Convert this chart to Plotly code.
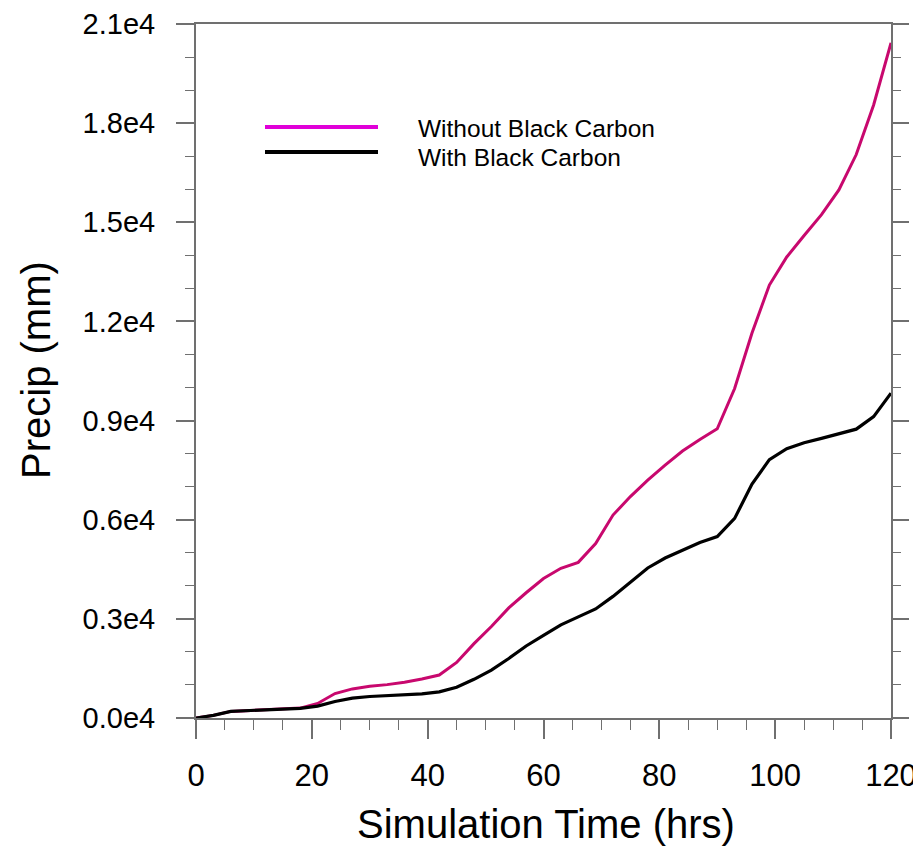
import plotly.graph_objects as go

hours = list(range(0, 121, 3))
without_bc = [0, 80, 200, 230, 250, 270, 300, 440, 740, 880, 960, 1010, 1080, 1180,
              1300, 1680, 2250, 2770, 3330, 3790, 4220, 4530, 4710, 5280, 6140, 6700,
              7200, 7650, 8080, 8430, 8750, 9970, 11650, 13100, 13950, 14600, 15230,
              15980, 17050, 18550, 20430]
with_bc = [0, 80, 200, 230, 250, 270, 290, 360, 500, 600, 650, 680, 700, 730, 790,
           930, 1170, 1450, 1800, 2180, 2500, 2820, 3060, 3300, 3680, 4120, 4540, 4840,
           5070, 5310, 5490, 6040, 7080, 7820, 8150, 8330, 8460, 8610, 8740, 9120, 9830]

y_tickvals = [0, 3000, 6000, 9000, 12000, 15000, 18000, 21000]
y_ticktext = ["0.0e4", "0.3e4", "0.6e4", "0.9e4", "1.2e4", "1.5e4", "1.8e4", "2.1e4"]
x_tickvals = [0, 20, 40, 60, 80, 100, 120]
legend_names = ["Without Black Carbon", "With Black Carbon"]
x_title = "Simulation Time (hrs)"
y_title = "Precip (mm)"

FONT = "Liberation Sans, Arial, Helvetica, sans-serif"
AX = "#707070"
OFF = 8  # default page body margin
W, H = 921 - OFF, 846 - OFF
# desired plot area in window pixels: x 196..891, y 24..718
PX0, PX1, PY0, PY1 = 196, 891, 24, 718
L, T = PX0 - OFF, PY0 - OFF
R, B = W - (PX1 - OFF), H - (PY1 - OFF)
PW, PH = PX1 - PX0, PY1 - PY0


def px(x):
    return (x - PX0) / PW


def py(y):
    return (PY1 - y) / PH


fig = go.Figure()
fig.add_trace(go.Scatter(x=hours, y=without_bc, mode="lines",
                         line=dict(color="#C8086E", width=3), showlegend=False,
                         name=legend_names[0]))
fig.add_trace(go.Scatter(x=hours, y=with_bc, mode="lines",
                         line=dict(color="#000000", width=3.2), showlegend=False,
                         name=legend_names[1]))
# invisible trace to anchor right-side tick axis
fig.add_trace(go.Scatter(x=hours, y=with_bc, mode="lines", yaxis="y2",
                         line=dict(color="rgba(0,0,0,0)", width=0), showlegend=False,
                         hoverinfo="skip"))

fig.update_layout(
    width=W, height=H,
    margin=dict(l=L, r=R, t=T, b=B, autoexpand=False),
    paper_bgcolor="white", plot_bgcolor="white",
    font=dict(family=FONT, color="black"),
    xaxis=dict(range=[0, 120], tickvals=x_tickvals, ticks="outside", ticklen=19,
               tickwidth=1.6, tickcolor=AX, showline=True, linecolor=AX, linewidth=2,
               mirror=True, showgrid=False, zeroline=False, automargin=False,
               tickfont=dict(size=31, family=FONT), ticklabelstandoff=10,
               minor=dict(dtick=5, ticks="outside", ticklen=10, tickwidth=1.4, tickcolor=AX)),
    yaxis=dict(range=[0, 21000], tickvals=y_tickvals, ticktext=y_ticktext,
               ticks="outside", ticklen=18, tickwidth=1.6, tickcolor=AX,
               showline=True, linecolor=AX, linewidth=2, mirror=True,
               showgrid=False, zeroline=False, automargin=False,
               tickfont=dict(size=29, family=FONT), ticklabelstandoff=15,
               minor=dict(dtick=1000, ticks="outside", ticklen=9, tickwidth=1.4, tickcolor=AX)),
    yaxis2=dict(range=[0, 21000], overlaying="y", side="right", tickvals=y_tickvals,
                showticklabels=False, ticks="outside", ticklen=17, tickwidth=1.6,
                tickcolor=AX, showline=False, showgrid=False, zeroline=False,
                automargin=False,
                minor=dict(dtick=1000, ticks="outside", ticklen=9, tickwidth=1.4, tickcolor=AX)),
)

# axis titles placed as annotations
fig.add_annotation(text=x_title, xref="paper", yref="paper",
                   x=px(546), y=py(824), xanchor="center", yanchor="middle",
                   showarrow=False, font=dict(size=40, family=FONT, color="black"))
fig.add_annotation(text=y_title, xref="paper", yref="paper",
                   x=px(36), y=py(370), textangle=-90,
                   xanchor="center", yanchor="middle", showarrow=False,
                   font=dict(size=40, family=FONT, color="black"))

# manual legend
leg_items = [(legend_names[0], "#E000D8", 127, 129),
             (legend_names[1], "#000000", 152, 157)]
for name, col, ly, ty in leg_items:
    fig.add_shape(type="line", xref="paper", yref="paper",
                  x0=px(265), x1=px(378), y0=py(ly), y1=py(ly),
                  line=dict(color=col, width=4))
    fig.add_annotation(text=name, xref="paper", yref="paper", x=px(416), y=py(ty),
                       xanchor="left", yanchor="middle", showarrow=False,
                       font=dict(size=24.5, family=FONT, color="black"))

fig.write_html("out.html")
